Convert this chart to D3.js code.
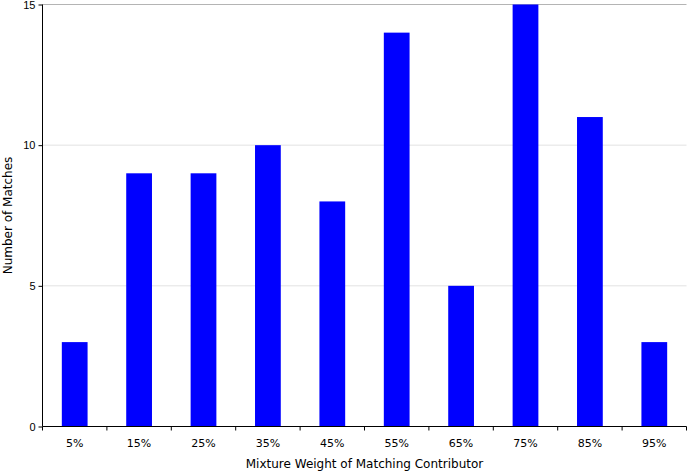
<!DOCTYPE html>
<html>
<head>
<meta charset="utf-8">
<script src="https://cdn.jsdelivr.net/npm/d3@7"></script>
<style>
  body { margin: 0; background: #fff; }
  svg { display: block; font-family: 'DejaVu Sans', Verdana, sans-serif; }
</style>
</head>
<body>
<div id="chart"></div>
<script>
const categories = ['5%', '15%', '25%', '35%', '45%', '55%', '65%', '75%', '85%', '95%']
const matches = [3, 9, 9, 10, 8, 14, 5, 15, 11, 3]
const yTicks = [0, 5, 10, 15]

const width = 687, height = 473
const margin = { top: 4.5, right: 0.5, bottom: 46.5, left: 42.5 }
const innerWidth = width - margin.left - margin.right
const innerHeight = height - margin.top - margin.bottom

const svg = d3.select('#chart')
  .append('svg')
  .attr('width', width)
  .attr('height', height)

const g = svg.append('g')
  .attr('transform', `translate(${margin.left},${margin.top})`)

const x = d3.scaleBand()
  .domain(categories)
  .range([0, innerWidth])
  .paddingInner(0.6)
  .paddingOuter(0.3)

const y = d3.scaleLinear()
  .domain([0, 15])
  .range([innerHeight, 0])

// 그리드
g.append('g')
  .selectAll('line')
  .data(yTicks.filter(d => d > 0))
  .join('line')
  .attr('x1', 0)
  .attr('x2', innerWidth)
  .attr('y1', d => y(d))
  .attr('y2', d => y(d))
  .attr('stroke', d => d === 15 ? '#b4b4b4' : '#e2e2e2')
  .attr('stroke-width', 1)

// 막대
g.append('g')
  .selectAll('rect')
  .data(matches)
  .join('rect')
  .attr('x', (d, i) => x(categories[i]))
  .attr('y', d => y(d))
  .attr('width', x.bandwidth())
  .attr('height', d => innerHeight - y(d))
  .attr('fill', '#0000ff')

// x축
const band = innerWidth / categories.length
const xAxis = g.append('g').attr('transform', `translate(0,${innerHeight})`)
xAxis.append('line')
  .attr('x1', 0).attr('x2', innerWidth)
  .attr('stroke', '#000')
xAxis.selectAll('line.tick')
  .data(d3.range(categories.length + 1))
  .join('line')
  .attr('class', 'tick')
  .attr('x1', d => d * band).attr('x2', d => d * band)
  .attr('y1', 0).attr('y2', 4)
  .attr('stroke', '#000')
xAxis.selectAll('text')
  .data(categories)
  .join('text')
  .attr('x', d => x(d) + x.bandwidth() / 2)
  .attr('y', 20)
  .attr('text-anchor', 'middle')
  .attr('font-size', '11px')
  .attr('fill', '#000')
  .text(d => d)

// y축
const yAxis = g.append('g')
  .call(d3.axisLeft(y).tickValues(yTicks).tickSize(4).tickPadding(3).tickFormat(d3.format('d')))
yAxis.select('.domain').attr('stroke', '#000').attr('d', `M0,${innerHeight}V0`)
yAxis.selectAll('text').attr('font-size', '11px').attr('font-family', null).attr('fill', '#000')
yAxis.selectAll('line').attr('stroke', '#000')

// 축 제목
svg.append('text')
  .attr('x', margin.left + innerWidth / 2)
  .attr('y', 468)
  .attr('text-anchor', 'middle')
  .attr('font-size', '12px')
  .text('Mixture Weight of Matching Contributor')

svg.append('text')
  .attr('transform', `translate(12,${margin.top + innerHeight / 2}) rotate(-90)`)
  .attr('text-anchor', 'middle')
  .attr('font-size', '12px')
  .text('Number of Matches')
</script>
</body>
</html>
